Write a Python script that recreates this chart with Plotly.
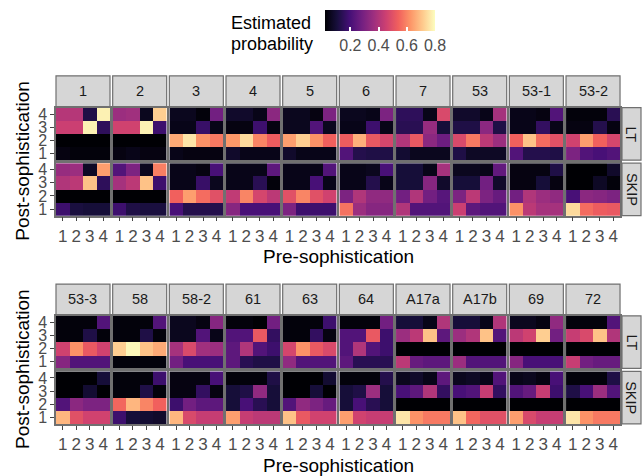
import plotly.graph_objects as go

# ---------------- data ----------------
top_facets = ["1", "2", "3", "4", "5", "6", "7", "53", "53-1", "53-2"]
bottom_facets = ["53-3", "58", "58-2", "61", "63", "64", "A17a", "A17b", "69", "72"]
row_labels = ["LT", "SKIP"]
pre_levels = [1, 2, 3, 4]
post_levels = [4, 3, 2, 1]          # rows of every matrix below, top to bottom
colorbar_ticks = [0.2, 0.4, 0.6, 0.8]
prob_min, prob_max = 0.02, 0.80

lt_1 = [[0.41, 0.41, 0.12, 0.78], [0.45, 0.45, 0.78, 0.15], [0.02, 0.02, 0.02, 0.02], [0.04, 0.03, 0.03, 0.03]]
skip_1 = [[0.35, 0.36, 0.07, 0.64], [0.40, 0.42, 0.70, 0.15], [0.02, 0.02, 0.02, 0.02], [0.18, 0.11, 0.10, 0.10]]
lt_2 = [[0.36, 0.37, 0.06, 0.72], [0.46, 0.46, 0.78, 0.18], [0.02, 0.02, 0.02, 0.02], [0.04, 0.05, 0.04, 0.04]]
skip_2 = [[0.22, 0.30, 0.06, 0.59], [0.38, 0.42, 0.70, 0.18], [0.02, 0.02, 0.02, 0.02], [0.18, 0.12, 0.11, 0.11]]
lt_3 = [[0.06, 0.06, 0.03, 0.28], [0.05, 0.05, 0.17, 0.05], [0.66, 0.76, 0.62, 0.58], [0.05, 0.04, 0.04, 0.04]]
skip_3 = [[0.05, 0.05, 0.04, 0.20], [0.05, 0.05, 0.17, 0.06], [0.54, 0.64, 0.56, 0.50], [0.20, 0.13, 0.13, 0.13]]
lt_4 = [[0.08, 0.08, 0.05, 0.33], [0.04, 0.04, 0.18, 0.04], [0.63, 0.74, 0.60, 0.53], [0.08, 0.05, 0.05, 0.05]]
skip_4 = [[0.05, 0.05, 0.05, 0.24], [0.05, 0.05, 0.14, 0.03], [0.43, 0.60, 0.47, 0.42], [0.32, 0.20, 0.20, 0.20]]
lt_5 = [[0.06, 0.06, 0.04, 0.30], [0.06, 0.06, 0.22, 0.06], [0.64, 0.72, 0.62, 0.54], [0.08, 0.05, 0.05, 0.05]]
skip_5 = [[0.05, 0.05, 0.05, 0.22], [0.05, 0.05, 0.20, 0.05], [0.50, 0.60, 0.50, 0.46], [0.30, 0.18, 0.18, 0.18]]
lt_6 = [[0.06, 0.06, 0.05, 0.30], [0.05, 0.05, 0.18, 0.05], [0.53, 0.67, 0.52, 0.47], [0.22, 0.13, 0.12, 0.12]]
skip_6 = [[0.05, 0.05, 0.06, 0.20], [0.05, 0.05, 0.13, 0.05], [0.30, 0.40, 0.34, 0.34], [0.57, 0.36, 0.32, 0.32]]
lt_7 = [[0.15, 0.15, 0.05, 0.48], [0.14, 0.14, 0.35, 0.10], [0.40, 0.52, 0.33, 0.27], [0.09, 0.06, 0.06, 0.06]]
skip_7 = [[0.10, 0.10, 0.05, 0.38], [0.10, 0.10, 0.32, 0.08], [0.28, 0.40, 0.28, 0.23], [0.40, 0.22, 0.22, 0.22]]
lt_53 = [[0.08, 0.08, 0.05, 0.38], [0.12, 0.12, 0.33, 0.12], [0.48, 0.58, 0.42, 0.36], [0.12, 0.07, 0.07, 0.07]]
skip_53 = [[0.06, 0.06, 0.05, 0.25], [0.10, 0.10, 0.28, 0.08], [0.30, 0.42, 0.30, 0.26], [0.45, 0.24, 0.22, 0.22]]
lt_53_1 = [[0.05, 0.05, 0.04, 0.22], [0.05, 0.05, 0.16, 0.05], [0.54, 0.70, 0.56, 0.50], [0.22, 0.13, 0.13, 0.12]]
skip_53_1 = [[0.04, 0.04, 0.04, 0.12], [0.04, 0.04, 0.10, 0.04], [0.28, 0.40, 0.36, 0.34], [0.62, 0.42, 0.38, 0.38]]
lt_53_2 = [[0.03, 0.03, 0.03, 0.14], [0.04, 0.04, 0.13, 0.04], [0.46, 0.64, 0.54, 0.47], [0.30, 0.22, 0.20, 0.22]]
skip_53_2 = [[0.02, 0.02, 0.02, 0.08], [0.02, 0.02, 0.07, 0.03], [0.20, 0.33, 0.32, 0.30], [0.74, 0.56, 0.53, 0.52]]
lt_53_3 = [[0.03, 0.03, 0.03, 0.22], [0.03, 0.03, 0.12, 0.03], [0.46, 0.62, 0.52, 0.46], [0.32, 0.22, 0.22, 0.22]]
skip_53_3 = [[0.02, 0.02, 0.02, 0.10], [0.02, 0.02, 0.09, 0.02], [0.22, 0.33, 0.30, 0.30], [0.68, 0.50, 0.46, 0.46]]
lt_58 = [[0.03, 0.03, 0.03, 0.22], [0.03, 0.03, 0.12, 0.03], [0.72, 0.79, 0.70, 0.66], [0.03, 0.03, 0.03, 0.03]]
skip_58 = [[0.03, 0.03, 0.03, 0.18], [0.03, 0.03, 0.12, 0.03], [0.55, 0.68, 0.60, 0.54], [0.18, 0.10, 0.09, 0.08]]
lt_58_2 = [[0.06, 0.06, 0.04, 0.32], [0.06, 0.06, 0.22, 0.05], [0.38, 0.48, 0.37, 0.36], [0.28, 0.20, 0.20, 0.20]]
skip_58_2 = [[0.04, 0.04, 0.04, 0.20], [0.04, 0.04, 0.16, 0.04], [0.18, 0.28, 0.24, 0.24], [0.68, 0.48, 0.44, 0.44]]
lt_61 = [[0.03, 0.03, 0.02, 0.28], [0.22, 0.22, 0.52, 0.16], [0.24, 0.40, 0.22, 0.18], [0.24, 0.14, 0.12, 0.12]]
skip_61 = [[0.03, 0.03, 0.03, 0.12], [0.10, 0.12, 0.34, 0.10], [0.10, 0.20, 0.14, 0.10], [0.64, 0.44, 0.42, 0.42]]
lt_63 = [[0.03, 0.03, 0.03, 0.18], [0.03, 0.03, 0.16, 0.04], [0.47, 0.62, 0.52, 0.48], [0.34, 0.22, 0.22, 0.22]]
skip_63 = [[0.02, 0.02, 0.02, 0.09], [0.02, 0.02, 0.10, 0.02], [0.22, 0.34, 0.30, 0.26], [0.70, 0.52, 0.46, 0.46]]
lt_64 = [[0.03, 0.03, 0.03, 0.28], [0.22, 0.22, 0.52, 0.18], [0.22, 0.40, 0.22, 0.18], [0.24, 0.14, 0.14, 0.14]]
skip_64 = [[0.03, 0.03, 0.03, 0.13], [0.10, 0.12, 0.36, 0.10], [0.10, 0.20, 0.14, 0.10], [0.64, 0.46, 0.44, 0.44]]
lt_A17a = [[0.10, 0.10, 0.05, 0.40], [0.36, 0.42, 0.70, 0.24], [0.02, 0.02, 0.02, 0.02], [0.42, 0.26, 0.24, 0.24]]
skip_A17a = [[0.06, 0.08, 0.05, 0.24], [0.20, 0.24, 0.40, 0.16], [0.02, 0.02, 0.02, 0.02], [0.76, 0.62, 0.58, 0.58]]
lt_A17b = [[0.10, 0.10, 0.05, 0.40], [0.36, 0.40, 0.70, 0.22], [0.02, 0.02, 0.02, 0.02], [0.36, 0.22, 0.22, 0.22]]
skip_A17b = [[0.06, 0.07, 0.05, 0.22], [0.20, 0.22, 0.44, 0.16], [0.02, 0.02, 0.02, 0.02], [0.70, 0.55, 0.50, 0.50]]
lt_69 = [[0.06, 0.06, 0.04, 0.34], [0.42, 0.46, 0.72, 0.28], [0.02, 0.02, 0.02, 0.02], [0.32, 0.20, 0.20, 0.20]]
skip_69 = [[0.05, 0.06, 0.04, 0.20], [0.22, 0.26, 0.44, 0.18], [0.02, 0.02, 0.02, 0.02], [0.64, 0.48, 0.44, 0.44]]
lt_72 = [[0.03, 0.03, 0.03, 0.22], [0.44, 0.48, 0.70, 0.40], [0.02, 0.02, 0.02, 0.02], [0.44, 0.28, 0.26, 0.26]]
skip_72 = [[0.03, 0.03, 0.03, 0.12], [0.12, 0.20, 0.36, 0.22], [0.02, 0.02, 0.02, 0.02], [0.76, 0.62, 0.58, 0.58]]

lt_values = [lt_1, lt_2, lt_3, lt_4, lt_5, lt_6, lt_7, lt_53, lt_53_1, lt_53_2,
             lt_53_3, lt_58, lt_58_2, lt_61, lt_63, lt_64, lt_A17a, lt_A17b, lt_69, lt_72]
skip_values = [skip_1, skip_2, skip_3, skip_4, skip_5, skip_6, skip_7, skip_53, skip_53_1, skip_53_2,
               skip_53_3, skip_58, skip_58_2, skip_61, skip_63, skip_64, skip_A17a, skip_A17b, skip_69, skip_72]

# ---------------- layout geometry (pixels) ----------------
W, H = 642, 476
FONT = "Liberation Sans, Arial, sans-serif"
FX0, PITCH, FW = 56.0, 56.67, 54.0
blocks = [
    dict(facets=top_facets, strip=(74.5, 105.5), rows=[(106.5, 159.5), (162.5, 215.5)], title_y=257),
    dict(facets=bottom_facets, strip=(284.5, 315.5), rows=[(316.5, 369.5), (372.5, 425.5)], title_y=467),
]
STRIP_R = (622.0, 641.0)
BORDER = "#707070"
STRIP_FILL = "#d6d6d6"
CB_X0, CB_LEN, CB_Y0, CB_TH = 325.0, 110.0, 8.0, 21.0


def px(x):
    return x / W


def py(y):
    return 1 - y / H


def note(text, x, y, size, color="#1a1a1a", angle=0, xanchor="center"):
    return dict(text=text, xref="paper", yref="paper", x=px(x), y=py(y),
                xanchor=xanchor, yanchor="middle", showarrow=False, textangle=angle,
                font=dict(size=size, color=color, family=FONT))


fig = go.Figure()
layout = {}
shapes = []
annotations = []

n = 0
for b_idx, block in enumerate(blocks):
    for r_idx, (ytop, ybot) in enumerate(block["rows"]):
        for k, facet in enumerate(block["facets"]):
            n += 1
            sfx = "" if n == 1 else str(n)
            vals = (lt_values if r_idx == 0 else skip_values)[b_idx * 10 + k]
            fig.add_trace(go.Heatmap(
                z=vals, x=pre_levels, y=post_levels,
                coloraxis="coloraxis", xaxis="x" + sfx, yaxis="y" + sfx,
                hovertemplate=f"{facet} {row_labels[r_idx]}<br>pre %{{x}}, post %{{y}}: %{{z:.2f}}<extra></extra>",
            ))
            x0 = FX0 + k * PITCH
            show_x = r_idx == 1
            show_y = k == 0
            layout["xaxis" + sfx] = dict(
                domain=[px(x0), px(x0 + FW)], anchor="y" + sfx, range=[0.5, 4.5],
                tickvals=pre_levels, showticklabels=show_x, ticks="outside" if show_x else "",
                ticklen=4, tickwidth=1, tickcolor="#444444",
                tickfont=dict(size=17, color="#4d4d4d", family=FONT),
                showgrid=False, zeroline=False, showline=True, mirror=True,
                linecolor=BORDER, linewidth=1.5, fixedrange=True,
            )
            layout["yaxis" + sfx] = dict(
                domain=[py(ybot), py(ytop)], anchor="x" + sfx, range=[0.5, 4.5],
                tickvals=pre_levels, showticklabels=show_y, ticks="outside" if show_y else "",
                ticklen=4, tickwidth=1, tickcolor="#444444",
                tickfont=dict(size=16, color="#4d4d4d", family=FONT),
                showgrid=False, zeroline=False, showline=True, mirror=True,
                linecolor=BORDER, linewidth=1.5, fixedrange=True,
            )
        # right strip (LT / SKIP)
        shapes.append(dict(type="rect", xref="paper", yref="paper",
                           x0=px(STRIP_R[0]), x1=px(STRIP_R[1]), y0=py(ybot), y1=py(ytop),
                           fillcolor=STRIP_FILL, line=dict(color=BORDER, width=1.2), layer="below"))
        annotations.append(note(row_labels[r_idx], sum(STRIP_R) / 2, (ytop + ybot) / 2, 14.5, angle=90))
    # top strips
    s0, s1 = block["strip"]
    for k, facet in enumerate(block["facets"]):
        x0 = FX0 + k * PITCH
        shapes.append(dict(type="rect", xref="paper", yref="paper",
                           x0=px(x0), x1=px(x0 + FW), y0=py(s1), y1=py(s0),
                           fillcolor=STRIP_FILL, line=dict(color=BORDER, width=1.2), layer="below"))
        annotations.append(note(facet, x0 + FW / 2, (s0 + s1) / 2, 14.5))
    # axis titles
    r0, r1 = block["rows"][0][0], block["rows"][1][1]
    annotations.append(note("Post-sophistication", 23, (r0 + r1) / 2, 19, color="black", angle=-90))
    annotations.append(note("Pre-sophistication", FX0 + (9 * PITCH + FW) / 2, block["title_y"], 19, color="black"))

# legend title
annotations.append(note("Estimated", 229, 21.5, 18, color="black", xanchor="left"))
annotations.append(note("probability", 229, 42, 18, color="black", xanchor="left"))

# white tick marks on the top edge of the colour bar (ggplot draws them on both edges)
for t in colorbar_ticks:
    xt = CB_X0 + (t - prob_min) / (prob_max - prob_min) * CB_LEN
    shapes.append(dict(type="line", xref="paper", yref="paper",
                       x0=px(xt), x1=px(xt), y0=py(CB_Y0), y1=py(CB_Y0 + 4),
                       line=dict(color="white", width=1.5), layer="above"))

layout.update(dict(
    width=W, height=H,
    margin=dict(l=0, r=0, t=0, b=0, pad=0),
    paper_bgcolor="white", plot_bgcolor="white",
    font=dict(family=FONT),
    showlegend=False,
    shapes=shapes, annotations=annotations,
    coloraxis=dict(
        colorscale="Magma", cmin=prob_min, cmax=prob_max,
        colorbar=dict(
            orientation="h", x=px(CB_X0), xanchor="left", y=py(CB_Y0), yanchor="top",
            len=CB_LEN, lenmode="pixels", thickness=CB_TH, thicknessmode="pixels",
            xpad=0, ypad=0, outlinewidth=0,
            tickvals=colorbar_ticks, ticktext=[f"{t:.1f}" for t in colorbar_ticks],
            ticks="inside", ticklen=4, tickwidth=1.5, tickcolor="white",
            tickfont=dict(size=16, color="#4d4d4d", family=FONT),
        ),
    ),
))
fig.update_layout(layout)
fig.write_html("out.html")
